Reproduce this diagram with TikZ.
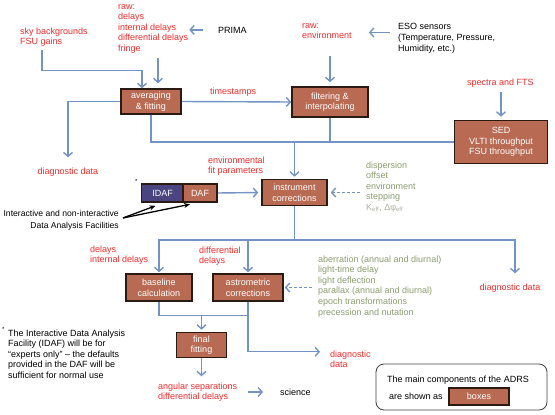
\documentclass[tikz,border=0pt]{standalone}
\usepackage{fontspec}
\setmainfont{Liberation Sans}
\usetikzlibrary{calc,arrows.meta}

\definecolor{boxfill}{HTML}{B96A52}
\definecolor{boxedge}{HTML}{2A1A12}
\definecolor{idaffill}{HTML}{4A4580}
\definecolor{rawred}{HTML}{EE2A2A}
\definecolor{flowblue}{HTML}{7393C4}
\definecolor{listgreen}{HTML}{8C9C6E}
\definecolor{listgrey}{HTML}{AAB0A0}

\begin{document}
\begin{tikzpicture}[x=1pt, y=-1pt,
	every node/.style={inner sep=0pt, font=\fontsize{9}{10.6}\selectfont},
	note/.style={anchor=base west, align=left},
	rednote/.style={note, text=rawred},
	greennote/.style={note, text=listgreen},
	stage/.style={draw=boxedge, line width=1.6pt, fill=boxfill, text=white, align=center},
	flow/.style={draw=flowblue, line width=1.4pt, -{Straight Barb[length=4pt,width=9pt]}},
	pipe/.style={draw=flowblue, line width=1.4pt},
	hint/.style={flow, dash pattern=on 3pt off 2pt},
	pointer/.style={draw=black, line width=1.3pt, -{Stealth[length=6pt,width=5pt]}}]

	\useasboundingbox (0,0) rectangle (555,415);

	% main components
	\node [stage, minimum width=60pt, minimum height=25pt] (avg) at (151,101.5) {averaging\\\& fitting};
	\node [stage, minimum width=76pt, minimum height=30pt] (filt) at (330,102) {filtering \&\\interpolating};
	\node [stage, minimum width=93pt, minimum height=43pt] (sed) at (501,142) {SED\\VLTI throughput\\FSU throughput};
	\node [stage, minimum width=65pt, minimum height=26pt] (inst) at (294.5,192.5) {instrument\\corrections};
	\node [stage, minimum width=42pt, minimum height=18pt, fill=idaffill] (idaf) at (162.5,193) {IDAF};
	\node [stage, minimum width=34pt, minimum height=18pt] (daf) at (200,193) {DAF};
	\node [stage, minimum width=66pt, minimum height=27pt] (base) at (159,287.5) {baseline\\calculation};
	\node [stage, minimum width=70pt, minimum height=27pt] (astro) at (248,287.5) {astrometric\\corrections};
	\node [stage, minimum width=50pt, minimum height=25pt] (final) at (201.5,345) {final\\fitting};

	% inputs and outputs (base = last line)
	\node [rednote] (sky) at (20,44.6) {sky backgrounds\\FSU gains};
	\node [rednote] (rawd) at (118,51.4) {raw:\\delays\\internal delays\\differential delays\\fringe};
	\node [note] (prima) at (218,33) {PRIMA};
	\node [rednote] (rawe) at (302,38.6) {raw:\\environment};
	\node [note] (eso) at (398,51.2) {ESO sensors\\(Temperature, Pressure,\\Humidity, etc.)};
	\node [rednote] (spec) at (467,85) {spectra and FTS};
	\node [rednote] (stamps) at (210,94) {timestamps};
	\node [rednote, anchor=base] (diagA) at (68,174) {diagnostic data};
	\node [rednote] (envfit) at (208,173.6) {environmental\\fit parameters};
	\node [greennote] (instpar) at (366,210.4) {dispersion\\offset\\environment\\stepping\\{\color{listgrey}K\textsubscript{eff}, Δφ\textsubscript{eff}}};
	\node [note, font=\fontsize{6}{6}\selectfont] (star) at (135,183) {*};
	\node [note, anchor=base east, align=right, font=\fontsize{8.6}{11.6}\selectfont] (facil) at (119,228) {Interactive and non-interactive\\Data Analysis Facilities};
	\node [rednote] (delays) at (90,262.6) {delays\\internal delays};
	\node [rednote] (diffd) at (199,263.6) {differential\\delays};
	\node [greennote] (astropar) at (318,315) {aberration (annual and diurnal)\\light-time delay\\light deflection\\parallax (annual and diurnal)\\epoch transformations\\precession and nutation};
	\node [rednote, anchor=base] (diagB) at (510,290) {diagnostic data};
	\node [rednote] (diagC) at (330,367.6) {diagnostic\\data};
	\node [rednote] (angsep) at (158,399.6) {angular separations\\differential delays};
	\node [note] (sci) at (280,395) {science};

	% footnote and legend
	\node [note, font=\fontsize{6}{6}\selectfont] (fnstar) at (2,331) {*};
	\node [note] (fnote) at (8,378.4) {The Interactive Data Analysis\\Facility (IDAF) will be for\\“experts only” – the defaults\\provided in the DAF will be\\sufficient for normal use};
	\node [draw=black!75, line width=0.8pt, rounded corners=8pt, minimum width=171pt, minimum height=46pt] (legend) at (461.5,387) {};
	\node [note] (legA) at (387,382) {The main components of the ADRS};
	\node [note] (legB) at (389,399) {are shown as};
	\node [stage, minimum width=60pt, minimum height=17pt] (legbox) at (479,396.5) {boxes};

	% connectors
	\draw [flow] ($(sky.south west)+(22,3)$) |- ($(avg.north)+(-9,-18)$) -- ([xshift=-9pt]avg.north);
	\draw [flow, shorten <=5pt, shorten >=5pt] ([xshift=7pt]avg.north |- rawd.south) -- ([xshift=7pt]avg.north);
	\draw [flow, shorten <=15pt, shorten >=1pt] (prima.west) -- (prima.west -| rawd.east);
	\draw [flow, shorten <=17pt, shorten >=4pt] (rawe.south -| filt.north) -- (filt.north);
	\draw [flow, shorten <=8pt, shorten >=17pt] ([yshift=-9pt]eso.north west) -- ([yshift=-9pt]eso.north west -| rawe.east);
	\draw [flow, shorten <=5pt, shorten >=3pt] (spec.south -| sed.north) -- (sed.north);
	\draw [flow] (avg.east) -- (filt.west);
	\draw [flow, shorten >=10pt] (avg.west) -| (diagA.north);

	\draw [pipe] (avg.south) |- (sed.west);
	\draw [pipe] (filt.south) -- (filt.south |- sed.west);
	\draw [flow, shorten >=2pt] (inst.north |- sed.west) -- (inst.north);

	\draw [flow, shorten >=3pt] (daf.east) -- (inst.west);
	\draw [hint, shorten <=6pt, shorten >=3pt] (inst.east -| instpar.west) -- (inst.east);
	\draw [pointer] ($(facil.north east)+(4,8)$) -- ($(idaf.south)+(-7,3)$);
	\draw [pointer] ($(facil.north east)+(4,8)$) -- ($(daf.south)+(-10,1.5)$);

	\draw [pipe] (inst.south) -- ++(0,33.5) coordinate (fork);
	\draw [flow, shorten >=1pt] (fork) -| (base.north);
	\draw [flow, shorten >=1pt] (fork) -| (astro.north);
	\draw [flow, shorten >=10pt] (fork) -| ([xshift=5pt]diagB.north);
	\draw [hint, shorten <=6pt, shorten >=1pt] (astro.east -| astropar.west) -- (astro.east);

	\coordinate (merge) at ($(final.north)+(0,-16)$);
	\draw [pipe] (base.south) |- (merge -| astro.south);
	\draw [flow, shorten >=2pt] (merge) -- (final.north);
	\draw [flow, shorten >=10pt] (astro.south) |- ([yshift=-1.5pt]diagC.north west);
	\draw [flow, shorten >=6pt] (final.south) -- (final.south |- angsep.north);
	\draw [flow, shorten <=11pt, shorten >=17pt] (angsep.east) -- (angsep.east -| sci.west);
\end{tikzpicture}
\end{document}
